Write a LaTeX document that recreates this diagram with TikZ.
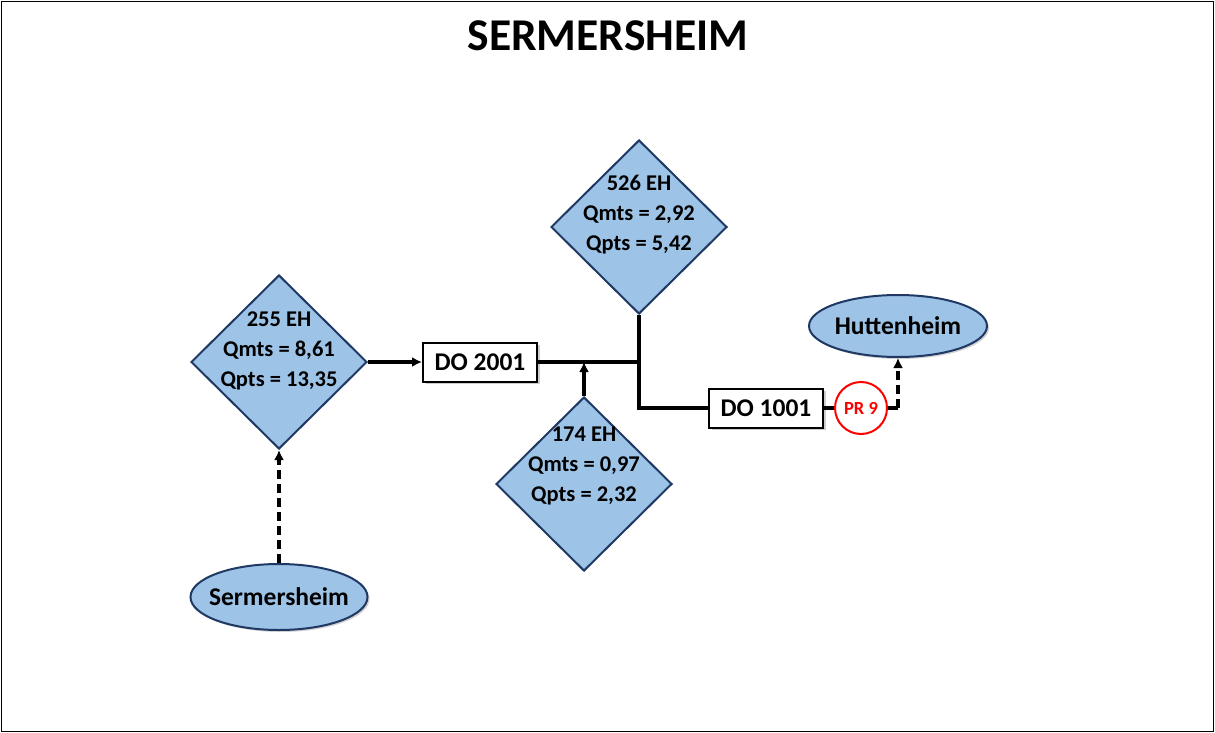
\documentclass[tikz,border=0pt]{standalone}
\usepackage{fontspec}
\setmainfont{Carlito}
\usetikzlibrary{shapes.geometric,arrows.meta,shadows}
\definecolor{fillblue}{RGB}{157,195,230}
\definecolor{edgeblue}{RGB}{31,56,100}
\definecolor{prred}{RGB}{255,0,0}
\tikzset{
  dia/.style={diamond,draw=edgeblue,fill=fillblue,line width=2pt,minimum width=176pt,minimum height=174pt,inner sep=0pt},
  dtext/.style={align=center,font=\bfseries\fontsize{22.5}{30}\selectfont,text=black},
  town/.style={ellipse,draw=edgeblue,fill=fillblue,line width=2pt,inner sep=0pt,font=\bfseries\fontsize{25.5}{28}\selectfont,drop shadow={shadow xshift=2pt,shadow yshift=-2pt,fill=black!35,opacity=0.5}},
  dobox/.style={rectangle,draw=black,fill=white,line width=2pt,minimum width=114pt,minimum height=39pt,inner sep=0pt,font=\bfseries\fontsize{25.5}{28}\selectfont,drop shadow={shadow xshift=2.5pt,shadow yshift=-2.5pt,fill=black!40,opacity=0.5}},
  prc/.style={circle,draw=prred,fill=white,line width=2pt,minimum size=52pt,inner sep=0pt,font=\bfseries\fontsize{18.5}{20}\selectfont,text=prred},
  pipe/.style={line width=3.6pt,draw=black},
  tip/.style={-{Latex[length=10pt,width=10pt]}},
  dashpipe/.style={line width=3.6pt,draw=black,dash pattern=on 9pt off 5pt},
}
\begin{document}
\begin{tikzpicture}[x=1pt,y=-1pt]
\useasboundingbox (0,0) rectangle (1215,733);
\draw[line width=1.5pt] (1.5,1.5) rectangle (1213.5,731.5);
\node[font=\bfseries\fontsize{45.5}{50}\selectfont] (title) at (608,36) {SERMERSHEIM};

\node[dia] (d255) at (279,362) {};
\node[dtext] (t255) at (279,351) {255 EH\\Qmts = 8,61\\Qpts = 13,35};
\node[dia] (d526) at (639,227) {};
\node[dtext] (t526) at (639,215) {526 EH\\Qmts = 2,92\\Qpts = 5,42};
\node[dia] (d174) at (584,484) {};
\node[dtext] (t174) at (584,466) {174 EH\\Qmts = 0,97\\Qpts = 2,32};

\node[dobox] (do2001) at (480,362) {DO 2001};
\node[dobox] (do1001) at (766,408) {DO 1001};
\node[prc] (pr9) at (861,408) {PR 9};

\node[town,minimum width=178pt,minimum height=62pt] (hut) at (898,326) {\makebox[0pt]{Huttenheim}};
\node[town,minimum width=177pt,minimum height=66pt] (ser) at (279,597) {\makebox[0pt]{Sermersheim}};

\coordinate (j1) at (639,362);
\coordinate (j2) at (639,408);
\coordinate (jin) at (584,362);
\coordinate (k1) at (898,408);

\draw[pipe,tip] (d255.east) -- (do2001.west);
\draw[pipe] (do2001.east) -- (j1);
\draw[pipe,line join=miter] (d526.south) -- (j1) -- (j2) -- (do1001.west);
\draw[pipe,tip] (d174.north) -- (jin);
\draw[pipe] (do1001.east) -- (pr9.west);
\draw[pipe] (pr9.east) -- (k1);
\draw[dashpipe,tip] (k1) -- (hut.south);
\draw[dashpipe,tip] (ser.north) -- (d255.south);
\end{tikzpicture}
\end{document}
